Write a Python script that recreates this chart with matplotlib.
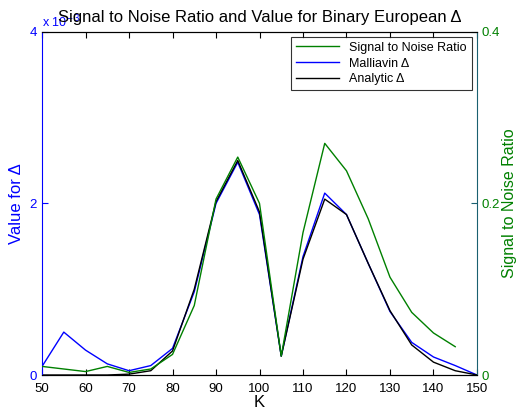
import numpy as np
import matplotlib.pyplot as plt

plt.rcParams['font.family'] = ['Liberation Sans', 'DejaVu Sans']

# strike prices
K = [50, 55, 60, 65, 70, 75, 80, 85, 90, 95, 100, 105, 110, 115, 120, 125, 130, 135, 140, 145, 150]
# delta values, in units of 1e-3
malliavin = [0.10, 0.50, 0.29, 0.13, 0.05, 0.11, 0.31, 0.97, 2.00, 2.48, 1.87, 0.22, 1.38, 2.12, 1.87, 1.30, 0.74, 0.38, 0.21, 0.11, 0.0]
analytic = [0.0, 0.0, 0.0, 0.0, 0.01, 0.05, 0.28, 1.00, 2.02, 2.50, 1.90, 0.22, 1.35, 2.05, 1.87, 1.30, 0.75, 0.35, 0.15, 0.05, 0.0]
# signal to noise ratio (no value at K=150)
K_snr = K[:-1]
snr = [0.010, 0.007, 0.004, 0.010, 0.003, 0.007, 0.024, 0.081, 0.205, 0.254, 0.200, 0.022, 0.166, 0.270, 0.238, 0.182, 0.114, 0.073, 0.049, 0.033]

fig = plt.figure(figsize=(5.19, 4.13), dpi=100)
ax = fig.add_axes([0.081, 0.092, 0.838, 0.831])

l1, = ax.plot(K, malliavin, color='#0000ff', lw=1.0, label='Malliavin \u0394')
l2, = ax.plot(K, analytic, color='black', lw=1.0, label='Analytic \u0394')
ax.set_xlim(50, 150)
ax.set_ylim(0, 4)
ax.set_xticks(range(50, 151, 10))
ax.set_yticks([0, 2, 4])
ax.tick_params(direction='in', labelsize=9.5, length=4)
ax.tick_params(axis='y', colors='#0000ff', labelcolor='#0000ff')
ax.tick_params(axis='x', top=True, labelcolor='black', pad=6)
ax.spines['left'].set_color('#0000ff')
ax.spines['right'].set_visible(False)
ax.set_ylabel('Value for \u0394', color='#0000ff', fontsize=12)
ax.set_xlabel('K', fontsize=12, labelpad=0)
ax.text(0.0, 1.005, r'x 10$^{-3}$', transform=ax.transAxes, color='#0000ff', fontsize=9, va='bottom')
ax.set_title('Signal to Noise Ratio and Value for Binary European \u0394', fontsize=12, pad=7)

twin = ax.twinx()
l3, = twin.plot(K_snr, snr, color='#008000', lw=1.0, label='Signal to Noise Ratio')
twin.set_ylim(0, 0.4)
twin.set_yticks([0, 0.2, 0.4])
twin.set_yticklabels(['0', '0.2', '0.4'])
twin.tick_params(direction='in', labelsize=9.5, length=4, colors='#1a6070', labelcolor='#008000')
twin.spines['right'].set_color('#1a6070')
twin.spines['left'].set_visible(False)
twin.set_ylabel('Signal to Noise Ratio', color='#008000', fontsize=11.5, labelpad=1)

leg = twin.legend([l3, l1, l2], [l.get_label() for l in [l3, l1, l2]], loc='upper right',
                  fancybox=False, edgecolor='black', fontsize=9, borderaxespad=0.4,
                  handlelength=3.5, labelspacing=0.3)
leg.get_frame().set_linewidth(0.8)

plt.savefig('out.png', dpi=100)
